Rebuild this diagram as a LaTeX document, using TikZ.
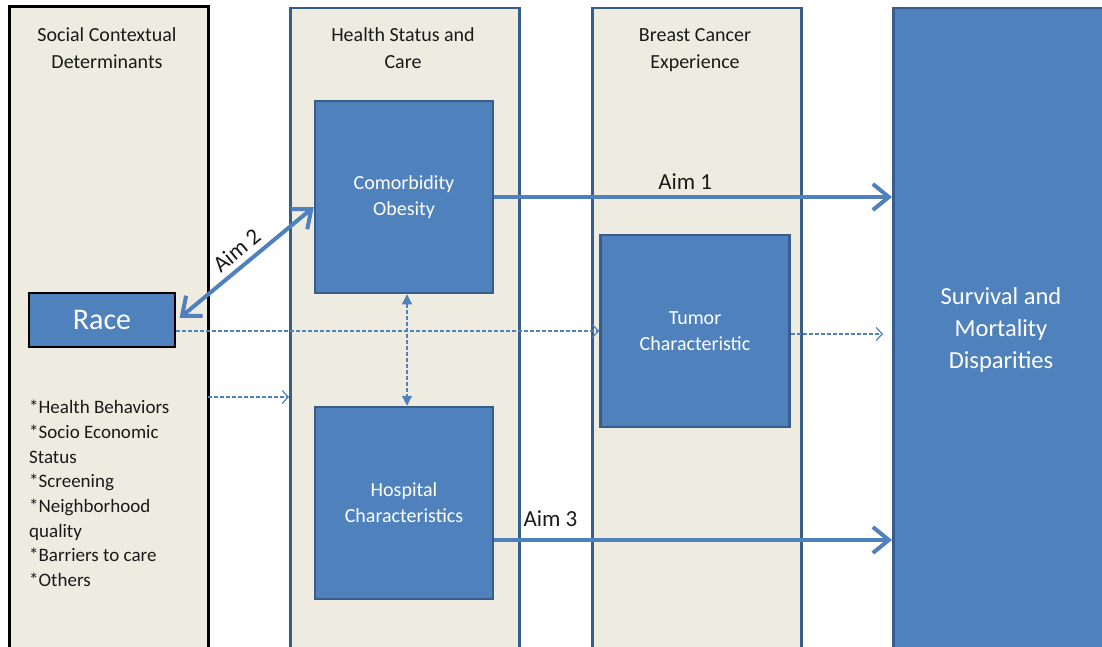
\documentclass[tikz,border=0pt]{standalone}
\usepackage{fontspec}
\setmainfont{Carlito}
\usetikzlibrary{arrows.meta}
\definecolor{beige}{HTML}{EEECE1}
\definecolor{blu}{HTML}{4F81BD}
\definecolor{blud}{HTML}{385D8A}
\definecolor{txt}{HTML}{1A1A1A}
\begin{document}
\begin{tikzpicture}[x=1pt,y=-1pt,
  column/.style={draw=blud, fill=beige, line width=2.5pt, anchor=north west, inner sep=0pt, minimum height=680pt},
  inbox/.style={draw=blud, fill=blu, line width=2.5pt, inner sep=0pt, text=white, align=center,
     font=\fontsize{20}{26}\selectfont},
  header/.style={align=center, text=txt, font=\fontsize{20}{27}\selectfont},
  aim/.style={draw=blu, line width=4pt, -{Straight Barb[length=16pt,width=26pt,line width=4pt]}},
  aimboth/.style={draw=blu, line width=4pt, {Straight Barb[length=16pt,width=26pt,line width=4pt]}-{Straight Barb[length=16pt,width=26pt,line width=4pt]}},
  aimlabel/.style={text=txt, font=\fontsize{23}{27}\selectfont},
  dsh/.style={draw=blu, line width=1.2pt, dash pattern=on 4pt off 2pt, -{Straight Barb[length=6pt,width=13pt,line width=1.2pt]}},
  vdsh/.style={draw=blu, line width=1.2pt, dash pattern=on 4pt off 2pt, {Triangle[length=10pt,width=10pt]}-{Triangle[length=10pt,width=10pt]}}
]
\useasboundingbox (0,0) rectangle (1102,647);

% columns
\node[column, draw=black, line width=3pt, minimum width=199pt] (soc) at (8,5) {};
\node[column, minimum width=229pt] (health) at (289,7) {};
\node[column, minimum width=209pt] (breast) at (591,7) {};
\node[column, fill=blu, minimum width=230pt] (surv) at (892,7) {};

% headers
\node[header] (hsoc) at (107,48) {Social Contextual\\Determinants};
\node[header] (hhealth) at (403,48) {Health Status and\\Care};
\node[header] (hbreast) at (695,50) {Breast Cancer\\Experience};
\node[text=white, align=center, font=\fontsize{24.5}{32}\selectfont] (tsurv) at (1001,330) {Survival and\\Mortality\\Disparities};

% inner boxes
\node[inbox, minimum width=178pt, minimum height=192pt] (como) at (404,197) {Comorbidity\\Obesity};
\node[inbox, minimum width=178pt, minimum height=192pt] (hosp) at (404,503) {Hospital\\Characteristics};
\node[inbox, minimum width=189pt, minimum height=192pt] (tumor) at (695,331) {Tumor\\Characteristic};
\node[inbox, draw=black, line width=1.2pt, minimum width=146pt, minimum height=54pt, font=\fontsize{30}{34}\selectfont] (race) at (102,320) {Race};

% list
\node[anchor=north west, align=left, inner sep=0pt, text=txt, font=\fontsize{19}{24.7}\selectfont] (list) at (29,400)
  {*Health Behaviors\\*Socio Economic\\Status\\*Screening\\*Neighborhood\\quality\\*Barriers to care\\*Others};

% Aim arrows
\draw[aim] (como.east) -- (como.east -| surv.west) node[pos=0.48, above=2pt, aimlabel] (a1) {Aim 1};
\draw[aim] ([yshift=-37pt]hosp.east) -- ([yshift=-37pt]hosp.east -| surv.west);
\node[aimlabel, anchor=base west] (a3) at (520,526) {Aim 3};
\draw[aimboth] ([xshift=4pt,yshift=2pt]race.east) -- ([yshift=-10pt]como.west)
  node[midway, sloped, above=5pt, inner sep=1pt, aimlabel] (a2) {Aim 2};

% dashed arrows
\draw[dsh] ([yshift=-11pt]race.east) -- ([yshift=-11pt]race.east -| tumor.west);
\coordinate (tend) at (883,334);
\draw[dsh] ([yshift=-3pt]tumor.east) -- (tend);
\coordinate (lst) at (208,397);
\draw[dsh] (lst) -- (lst -| health.west);
\draw[vdsh] ([xshift=3pt]como.south) -- ([xshift=3pt]hosp.north);
\end{tikzpicture}
\end{document}
